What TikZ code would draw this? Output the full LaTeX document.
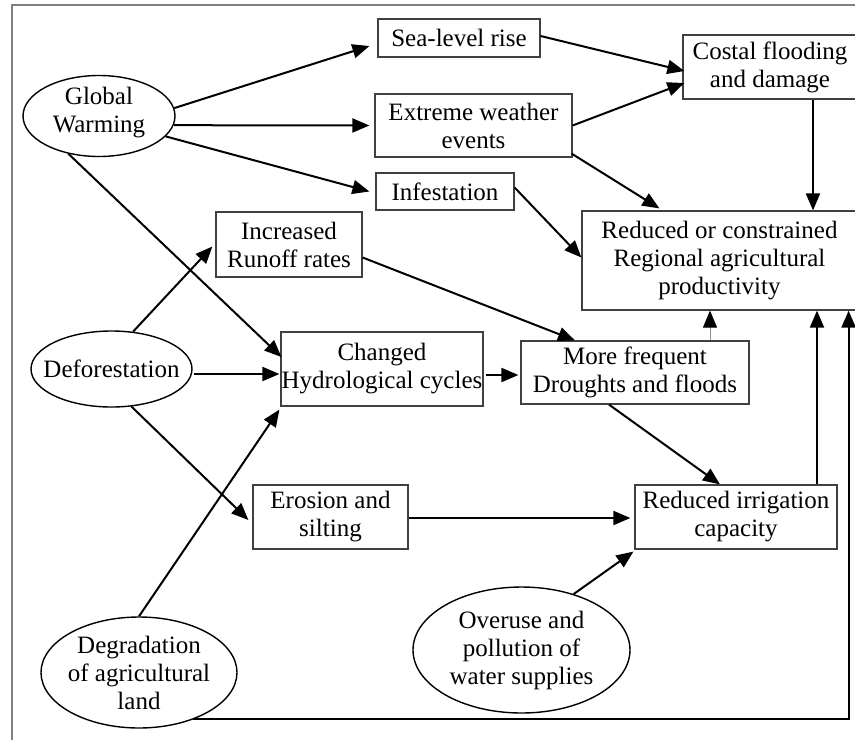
\documentclass[tikz,border=0pt]{standalone}
\usepackage{fontspec}
\setmainfont{Liberation Serif}
\usetikzlibrary{arrows.meta,shapes.geometric,calc}
\begin{document}
\begin{tikzpicture}[x=1pt,y=-1pt,
  every node/.style={font=\fontsize{25}{28}\selectfont},
  box/.style={draw=black!75, line width=1.2pt, inner sep=0pt, align=center, fill=white},
  oval/.style={ellipse, draw=black, line width=1.4pt, inner sep=0pt, fill=white},
  ovaltext/.style={align=center, inner sep=0pt},
  arr/.style={line width=2pt, -{Triangle[length=17pt,width=14pt]}},
  thinarr/.style={line width=1pt, draw=black!45, -{Triangle[length=17pt,width=14pt,color=black]}},
  frameline/.style={draw=black!50, line width=2pt}
]
\useasboundingbox (0,0) rectangle (855,740);

% boxes
\node[box, minimum width=162pt, minimum height=38pt] (sea) at (459,38) {Sea-level rise};
\node[box, minimum width=197pt, minimum height=63pt] (ext) at (473.5,125.5) {Extreme weather\\events};
\node[box, minimum width=138pt, minimum height=37pt] (inf) at (445,191.5) {Infestation};
\node[box, minimum width=174pt, minimum height=64pt] (cos) at (770,67) {Costal flooding\\and damage};
\node[box, minimum width=275pt, minimum height=99pt] (red) at (719.5,260.5) {Reduced or constrained\\Regional agricultural\\productivity};
\node[box, minimum width=146pt, minimum height=65pt] (run) at (289,244.5) {Increased\\Runoff rates};
\node[box, minimum width=202pt, minimum height=74pt] (hyd) at (382,369) {Changed\\Hydrological cycles};
\node[box, minimum width=228pt, minimum height=63pt] (mor) at (635,372.5) {More frequent\\Droughts and floods};
\node[box, minimum width=202pt, minimum height=64pt] (irr) at (736,517) {Reduced irrigation\\capacity};
\node[box, minimum width=155pt, minimum height=64pt] (ero) at (330.5,517) {Erosion and\\silting};

% ellipses
\node[oval, minimum width=152pt, minimum height=81pt] (gw) at (99,116) {};
\node[ovaltext] (gwt) at ([yshift=3pt]gw.center) {Global\\Warming};
\node[oval, minimum width=161pt, minimum height=76pt] (def) at (111.5,369) {};
\node[ovaltext] (deft) at (def.center) {Deforestation};
\node[oval, minimum width=196pt, minimum height=111pt] (deg) at (139,672.5) {};
\node[ovaltext] (degt) at (deg.center) {Degradation\\of agricultural\\land};
\node[oval, minimum width=217pt, minimum height=126pt] (ovr) at (521.5,650) {};
\node[ovaltext] (ovrt) at (ovr.center) {Overuse and\\pollution of\\water supplies};

% helper coordinates
\coordinate (c1) at ($(cos.south)+(43,0)$);
\coordinate (c2) at ($(mor.north)+(75,0)$);
\coordinate (c3) at ($(irr.north)+(81,0)$);
\coordinate (c4) at ($(red.south east)+(-9,0)$);
\coordinate (c5) at (193,719);

% connectors
\draw[arr] (gw.6) -- ($(sea.west)+(-8,8)$);
\draw[arr] (gw.-7) -- ($(ext.west)+(-5,0)$);
\draw[arr] (gw.-17) -- ($(inf.west)+(-6,0)$);
\draw[arr] (gw.-129) -- ($(hyd.west)+(1,-12)$);
\draw[arr] (def.60) -- ($(run.west)+(-3,2)$);
\draw[arr] ($(def.east)+(1,5)$) -- ($(hyd.west)+(-1,5)$);
\draw[arr] (def.-62) -- ($(ero.west)+(-4,3)$);
\draw[arr] (deg.north) -- ($(hyd.south west)+(-1,3)$);
\draw[arr] ($(run.east)+(0,13)$) -- ($(mor.north)+(-60,0)$);
\draw[arr] ($(hyd.east)+(2,6)$) -- ($(mor.west)+(-2,2.5)$);
\draw[arr] ($(sea.east)+(0,-2)$) -- ($(cos.west)+(2,4)$);
\draw[arr] (ext.east) -- ($(cos.west)+(2,16)$);
\draw[arr] ($(ext.south east)+(-1,-4)$) -- ($(red.north west)+(78,-2)$);
\draw[arr] ($(inf.east)+(0,-4)$) -- ($(red.west)+(0,-3)$);
\draw[arr] (c1) -- (c1 |- red.north);
\draw[thinarr] (c2) -- (c2 |- red.south);
\draw[arr] ($(mor.south)+(-26,0)$) -- ($(irr.north)+(-16,0)$);
\draw[arr] ($(ero.east)+(0,1)$) -- ($(ero.east -| irr.west)+(-4,1)$);
\draw[arr] (ovr.47) -- ($(irr.south west)+(-1,2)$);
\draw[arr] (c3) -- (c3 |- red.south);
\draw[arr] (c5) -| (c4);

% frame
\draw[frameline] (12,740) -- (12,5) -- (855,5);
\end{tikzpicture}
\end{document}
